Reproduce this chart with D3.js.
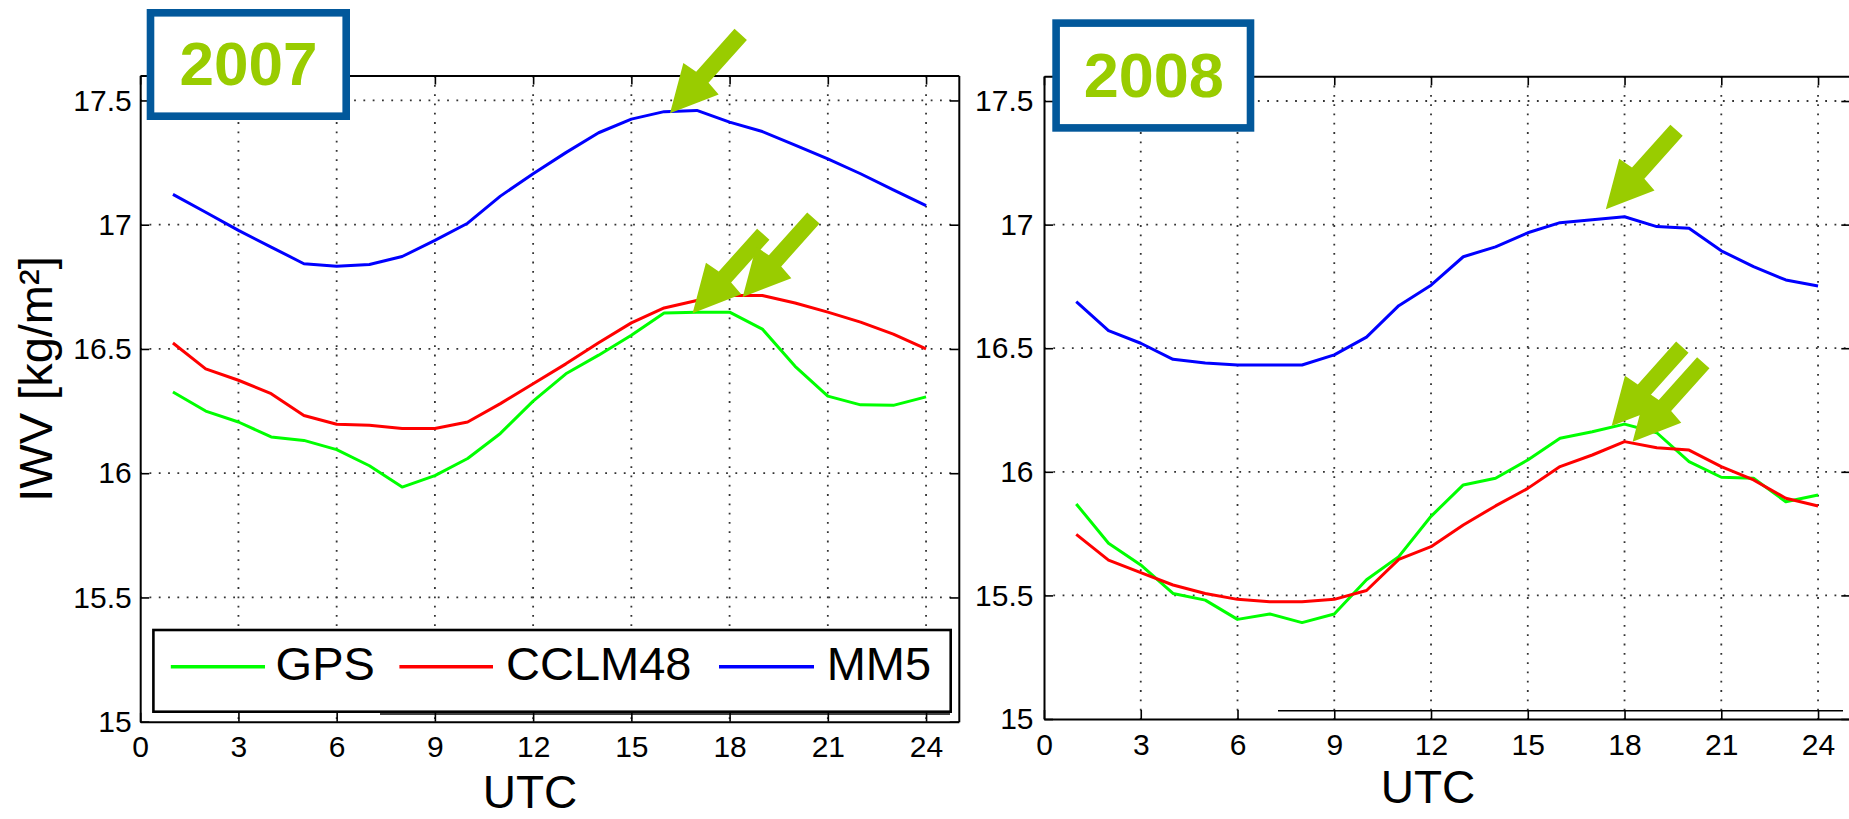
<!DOCTYPE html>
<html><head><meta charset="utf-8">
<script src="https://cdn.jsdelivr.net/npm/d3@7"></script>
<style>
html,body{margin:0;padding:0;background:#fff;overflow:hidden}
text{font-family:"Liberation Sans",Arial,Helvetica,sans-serif}
</style>
</head><body>
<svg id="chart" width="1849" height="819" style="display:block;background:#fff"></svg>
<script>
// ---------- data ----------
const hours = [1,2,3,4,5,6,7,8,9,10,11,12,13,14,15,16,17,18,19,20,21,22,23,24];
const xTicks = [0,3,6,9,12,15,18,21,24];
const yTicks = [15,15.5,16,16.5,17,17.5];
const yTickLabels = ["15","15.5","16","16.5","17","17.5"];
const seriesNames = ["GPS","CCLM48","MM5"];
const seriesColors = ["#00ff00","#ff0000","#0000ff"];
const yearLabels = ["2007","2008"];
const xTitle = "UTC";
const yTitle = "IWV [kg/m²]";

const gps2007  = [16.327,16.25,16.206,16.146,16.132,16.095,16.03,15.944,15.99,16.059,16.16,16.29,16.40,16.475,16.555,16.645,16.648,16.648,16.58,16.43,16.31,16.275,16.273,16.307];
const cclm2007 = [16.524,16.42,16.374,16.32,16.232,16.197,16.193,16.18,16.18,16.206,16.28,16.36,16.44,16.525,16.605,16.665,16.695,16.715,16.715,16.685,16.648,16.608,16.56,16.50];
const mm52007  = [17.122,17.05,16.977,16.91,16.843,16.833,16.84,16.872,16.937,17.006,17.115,17.205,17.29,17.37,17.425,17.455,17.46,17.413,17.375,17.32,17.265,17.205,17.14,17.077];

const gps2008  = [15.87,15.711,15.623,15.508,15.481,15.403,15.425,15.39,15.425,15.563,15.657,15.82,15.947,15.974,16.048,16.136,16.162,16.193,16.158,16.041,15.978,15.974,15.879,15.906];
const cclm2008 = [15.747,15.643,15.592,15.542,15.508,15.484,15.474,15.474,15.484,15.52,15.646,15.697,15.785,15.862,15.933,16.021,16.068,16.122,16.097,16.088,16.021,15.967,15.893,15.862];
const mm52008  = [16.688,16.571,16.52,16.455,16.44,16.432,16.432,16.432,16.473,16.545,16.672,16.755,16.87,16.91,16.967,17.008,17.02,17.032,16.992,16.985,16.894,16.83,16.776,16.752];

// arrow tips (UTC hour, IWV)
const arrows2007 = [[16.18,17.448],[16.87,16.644],[18.40,16.709]];
const arrows2008 = [[17.42,17.062],[17.60,16.185],[18.25,16.122]];

// ---------- layout ----------
const panels = [
  {year:yearLabels[0], xr:[140.2,958.8], yr:[721.7,75.6], pad:8.5, series:[gps2007,cclm2007,mm52007], arrows:arrows2007,
   legend:true, box:{x:146.7,y:9,w:203.3,h:111}, yt:{x:248.5,y:85,size:62}, utc:{x:530,y:808},
   extra:{x1:380,x2:950,y:714}},
  {year:yearLabels[1], xr:[1044,1850.3], yr:[719,76.3], pad:10.5, series:[gps2008,cclm2008,mm52008], arrows:arrows2008,
   legend:false, box:{x:1052.3,y:19.3,w:202,h:112.4}, yt:{x:1153.8,y:97.3,size:63}, utc:{x:1428,y:803},
   extra:{x1:1278,x2:1843,y:710.7}}
];

const svg = d3.select("#chart");
svg.append("rect").attr("width",1849).attr("height",819).attr("fill","#fff");

const arrowGreen = "#99cc00";
const boxBlue = "#02589b";

function arrowPath(tx,ty){
  const L=106, hl=46.5, hw=23.7, sw=8.3, jl=48.5;
  const U=[0.667,-0.745], N=[0.745,0.667];
  const loc=[[0,0],[hl,hw],[jl,sw],[L,sw],[L,-sw],[jl,-sw],[hl,-hw]];
  return "M"+loc.map(([u,n])=>[tx+u*U[0]+n*N[0], ty+u*U[1]+n*N[1]].map(v=>v.toFixed(2)).join(",")).join("L")+"Z";
}

panels.forEach(p=>{
  const x = d3.scaleLinear().domain([0,25]).range(p.xr);
  const y = d3.scaleLinear().domain([15,17.6]).range(p.yr);
  const g = svg.append("g");

  // grid
  const grid = g.append("g").attr("stroke","#333").attr("stroke-width",1.8).attr("stroke-dasharray","1.8,7.5").attr("fill","none");
  xTicks.filter(t=>t>0).forEach(t=>{
    grid.append("line").attr("x1",x(t)).attr("x2",x(t)).attr("y1",y(17.6)).attr("y2",y(15));
  });
  yTicks.filter(t=>t>15).forEach(t=>{
    grid.append("line").attr("x1",x(0)).attr("x2",x(25)).attr("y1",y(t)).attr("y2",y(t));
  });

  // series
  const line = d3.line().x((d,i)=>x(hours[i])).y(d=>y(d));
  p.series.forEach((s,i)=>{
    g.append("path").datum(s).attr("d",line).attr("fill","none")
      .attr("stroke",seriesColors[i]).attr("stroke-width",3).attr("stroke-linejoin","round");
  });

  // axes
  const fmtY = d=>yTickLabels[yTicks.indexOf(d)];
  const styleAxis = sel=>{
    sel.select(".domain").attr("stroke","#000").attr("stroke-width",2);
    sel.selectAll(".tick line").attr("stroke","#000").attr("stroke-width",1.6);
    sel.selectAll(".tick text").attr("fill","#000").attr("font-size",30).attr("font-family",'"Liberation Sans",Arial,sans-serif');
  };
  g.append("g").attr("transform",`translate(0,${y(15)})`)
    .call(d3.axisBottom(x).tickValues(xTicks).tickSizeInner(-9).tickSizeOuter(0).tickPadding(14.5)).call(styleAxis);
  g.append("g").attr("transform",`translate(0,${y(17.6)})`)
    .call(d3.axisTop(x).tickValues(xTicks).tickSizeInner(-9).tickSizeOuter(0).tickFormat(()=>"")).call(styleAxis);
  g.append("g").attr("transform",`translate(${x(0)},0)`)
    .call(d3.axisLeft(y).tickValues(yTicks).tickFormat(fmtY).tickSizeInner(-9).tickSizeOuter(0).tickPadding(p.pad)).call(styleAxis);
  g.append("g").attr("transform",`translate(${x(25)},0)`)
    .call(d3.axisRight(y).tickValues(yTicks).tickSizeInner(-9).tickSizeOuter(0).tickFormat(()=>"")).call(styleAxis);

  // x title
  g.append("text").attr("x",p.utc.x).attr("y",p.utc.y).attr("text-anchor","middle")
    .attr("font-size",46).attr("fill","#000").text(xTitle);

  // stray line under legend area
  g.append("line").attr("x1",p.extra.x1).attr("x2",p.extra.x2).attr("y1",p.extra.y).attr("y2",p.extra.y)
    .attr("stroke","#000").attr("stroke-width",1.4);

  // legend
  if(p.legend){
    const lg = g.append("g");
    lg.append("rect").attr("x",153.4).attr("y",630).attr("width",797.3).attr("height",81.7)
      .attr("fill","#fff").attr("stroke","#000").attr("stroke-width",2.6);
    const items = [{x1:170.8,x2:265,tx:275.6},{x1:399.4,x2:493,tx:506},{x1:719,x2:814,tx:826.7}];
    items.forEach((it,i)=>{
      lg.append("line").attr("x1",it.x1).attr("x2",it.x2).attr("y1",666.7).attr("y2",666.7)
        .attr("stroke",seriesColors[i]).attr("stroke-width",3.6);
      lg.append("text").attr("x",it.tx).attr("y",680).attr("font-size",47).attr("fill","#000").text(seriesNames[i]);
    });
  }

  // year box
  const bw = 7.6;
  g.append("rect").attr("x",p.box.x+bw/2).attr("y",p.box.y+bw/2).attr("width",p.box.w-bw).attr("height",p.box.h-bw)
    .attr("fill","#fff").attr("stroke",boxBlue).attr("stroke-width",bw);
  g.append("text").attr("x",p.yt.x).attr("y",p.yt.y).attr("text-anchor","middle")
    .attr("font-size",p.yt.size).attr("font-weight","bold").attr("fill",arrowGreen).text(p.year);

  // arrows
  p.arrows.forEach(a=>{
    g.append("path").attr("d",arrowPath(x(a[0]),y(a[1]))).attr("fill",arrowGreen);
  });
});

// y title
svg.append("text").attr("transform","translate(51.7,379) rotate(-90)").attr("text-anchor","middle")
  .attr("font-size",47).attr("fill","#000").text(yTitle);
</script>
</body></html>
